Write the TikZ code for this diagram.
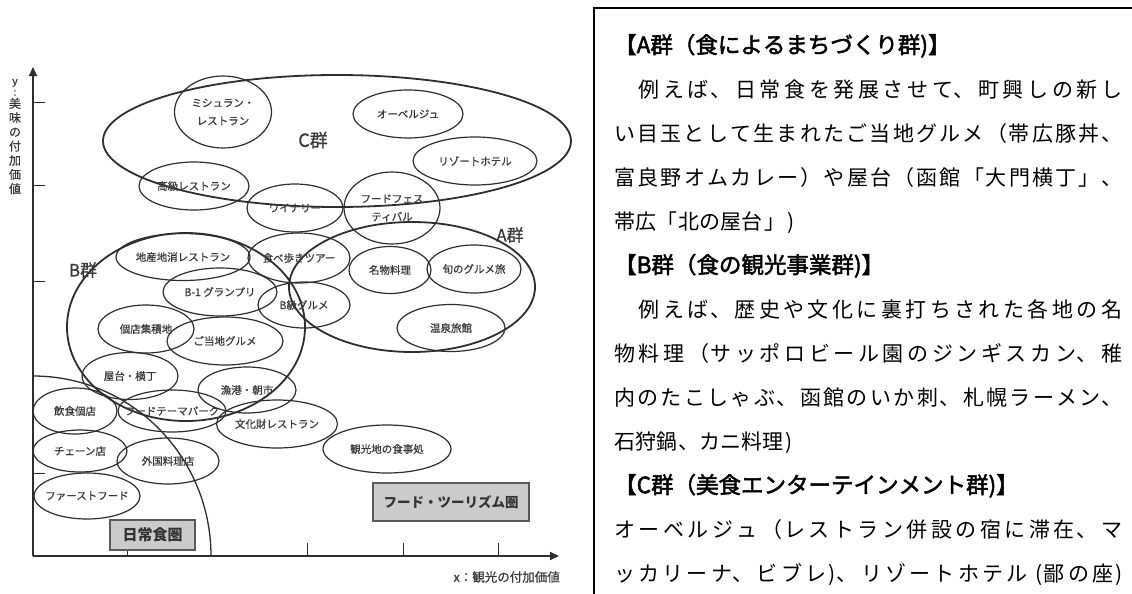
\documentclass[tikz,border=0pt]{standalone}
\usepackage{fontspec}
\setmainfont{Noto Sans CJK JP}
\newfontfamily\jp{Noto Sans CJK JP}
\newfontfamily\jpl{Noto Sans CJK JP}[FakeBold=0.7]
\newfontfamily\jpt{Noto Sans CJK JP}[LetterSpace=8]
\newfontfamily\jph{Noto Sans CJK JP}[FakeBold=2.2]
\usetikzlibrary{shapes.geometric,arrows.meta}
\XeTeXlinebreaklocale "ja"
\XeTeXlinebreakskip=0pt plus 8pt
\definecolor{linec}{HTML}{2E2E2E}
\definecolor{labc}{HTML}{3A3A3A}
\definecolor{boxf}{HTML}{CBCBCB}
\definecolor{boxd}{HTML}{5A5A5A}
\newcommand\itm[5]{\node[item, minimum width=#3pt, minimum height=#4pt] (#1) at (#2) {};
  \node[lab] (#1t) at (#1.center) {#5};}
\newcommand\hd[1]{{\jph\fontsize{22.5}{44}\selectfont\rule{0pt}{30pt}#1\par}}
\begin{document}
\begin{tikzpicture}[x=1pt,y=-1pt,
  item/.style={ellipse, draw=linec, line width=1.2pt, inner sep=0pt},
  grp/.style={ellipse, draw=linec, line width=1.8pt, inner sep=0pt},
  lab/.style={inner sep=0pt, text=labc, align=center, font=\jpl\fontsize{10.5}{18}\selectfont},
  glab/.style={inner sep=0pt, text=labc, font=\jpl\fontsize{17}{18}\selectfont},
  zone/.style={draw=boxd, fill=boxf, line width=1.2pt, inner sep=0pt, text=black!80},
  axisline/.style={draw=linec, line width=2pt},
  tickline/.style={draw=linec, line width=1pt}]
\useasboundingbox (0,0) rectangle (1132,594);
\fill[white] (0,0) rectangle (1132,594);

% axes
\coordinate (O) at (33,556);
\coordinate (xend) at (559,556);
\coordinate (yend) at (33,67);
\draw[axisline, -{Triangle[length=9pt,width=8pt]}] (O) -- (xend);
\draw[axisline, -{Triangle[length=9pt,width=8pt]}] (O) -- (yend);
\foreach \yy in {102,185,281,473} {\draw[tickline] (33,\yy) -- (45,\yy);}
\draw[tickline] (127,550) -- (127,556);
\foreach \xx in {307,403,498} {\draw[tickline] (\xx,543) -- (\xx,556);}
\node[inner sep=0pt, text=labc, font=\jpl\fontsize{10.5}{10}\selectfont] (ylab1) at (15,83) {y};
\node[inner sep=0pt, text=labc, font=\jpl\fontsize{10.5}{10}\selectfont] (ylab2) at (15,93) {:};
\node[inner sep=0pt, text=labc, align=center, font=\jpl\fontsize{12}{14.2}\selectfont] (ylab3) at (15,146) {美\\味\\の\\付\\加\\価\\値};
\node[inner sep=0pt, anchor=east, text=labc, font=\jpl\fontsize{12.5}{12}\selectfont] (xlab) at (560,577) {x：観光の付加価値};

% daily food zone arc
\coordinate (arcstart) at (211,556);
\draw[linec, line width=1.3pt] (arcstart) arc[start angle=0, end angle=90, x radius=178pt, y radius=180pt];

% groups
\node[grp, minimum width=468pt, minimum height=132pt] (C) at (337,141) {};
\node[grp, minimum width=246pt, minimum height=130pt] (A) at (412,287) {};
\node[grp, minimum width=238pt, minimum height=188pt] (B) at (186,327) {};
\node[glab, font=\jpl\fontsize{18}{18}\selectfont] (Ct) at (313,140) {C群};
\node[glab] (At) at (510,235) {A群};
\node[glab] (Bt) at (83,270) {B群};

% items
\itm{mich}{223,112}{97}{72}{ミシュラン・\\レストラン}
\itm{auberge}{408,114}{110}{48}{オーベルジュ}
\itm{resort}{475,161}{124}{48}{リゾートホテル}
\itm{koukyu}{194,186}{110}{48}{高級レストラン}
\itm{winery}{295,208}{96}{48}{ワイナリー}
\itm{fes}{392,208}{96}{72}{フードフェス\\ティバル}
\itm{chisan}{183,257}{134}{47}{地産地消レストラン}
\itm{tabe}{299,258}{102}{50}{食べ歩きツアー}
\itm{meibutsu}{390,270}{82}{47}{名物料理}
\itm{shun}{474,269}{94}{48}{旬のグルメ旅}
\itm{bone}{220,292}{114}{48}{B-1 グランプリ}
\itm{bkyu}{304,305}{92}{46}{B級グルメ}
\itm{onsen}{451,328}{108}{47}{温泉旅館}
\itm{koten}{146,329}{96}{48}{個店集積地}
\itm{gotochi}{225,341}{116}{48}{ご当地グルメ}
\itm{yatai}{130,376}{96}{47}{屋台・横丁}
\itm{gyokou}{247,390}{98}{46}{漁港・朝市}
\itm{inshoku}{75,411}{84}{46}{飲食個店}
\itm{theme}{172,411}{108}{42}{フードテーマパーク}
\itm{bunka}{277,424}{121}{48}{文化財レストラン}
\itm{kankou}{387,449}{128}{48}{観光地の食事処}
\itm{chain}{80,451}{94}{42}{チェーン店}
\itm{gaikoku}{168,461}{102}{46}{外国料理店}
\itm{fast}{87,496}{106}{46}{ファーストフード}

% zone boxes
\node[zone, minimum width=85pt, minimum height=30pt, font=\jp\bfseries\fontsize{15}{16}\selectfont] (daily) at (152.5,535) {日常食圏};
\node[zone, minimum width=156pt, minimum height=38pt, font=\jp\bfseries\fontsize{13.5}{15}\selectfont] (ftz) at (451,502) {フード・ツーリズム圏};

% text panel
\coordinate (pb) at (594,594);
\coordinate (pc) at (594,8);
\coordinate (pr) at (1132,8);
\draw[black, line width=1.6pt] (pb) -- (pc) -- (pr);
\node[anchor=north west, inner sep=0pt, text width=508pt, align=justify,
      font=\jpt\fontsize{21}{44}\selectfont] (txt) at (614,23) {%
\setlength\parskip{0pt}\setlength\parindent{0pt}%
\hd{【A群（食によるまちづくり群)】}
　例えば、日常食を発展させて、町興しの新し\linebreak
い目玉として生まれたご当地グルメ（帯広豚丼、\linebreak
富良野オムカレー）や屋台（函館「大門横丁」、\linebreak
帯広「北の屋台」)\par
\hd{【B群（食の観光事業群)】}
　例えば、歴史や文化に裏打ちされた各地の名\linebreak
物料理（サッポロビール園のジンギスカン、稚\linebreak
内のたこしゃぶ、函館のいか刺、札幌ラーメン、\linebreak
石狩鍋、カニ料理)\par
\hd{【C群（美食エンターテインメント群)】}
オーベルジュ（レストラン併設の宿に滞在、マ\linebreak
ッカリーナ、ビブレ)、リゾートホテル (鄙の座)\parfillskip=0pt\par};
\end{tikzpicture}
\end{document}
